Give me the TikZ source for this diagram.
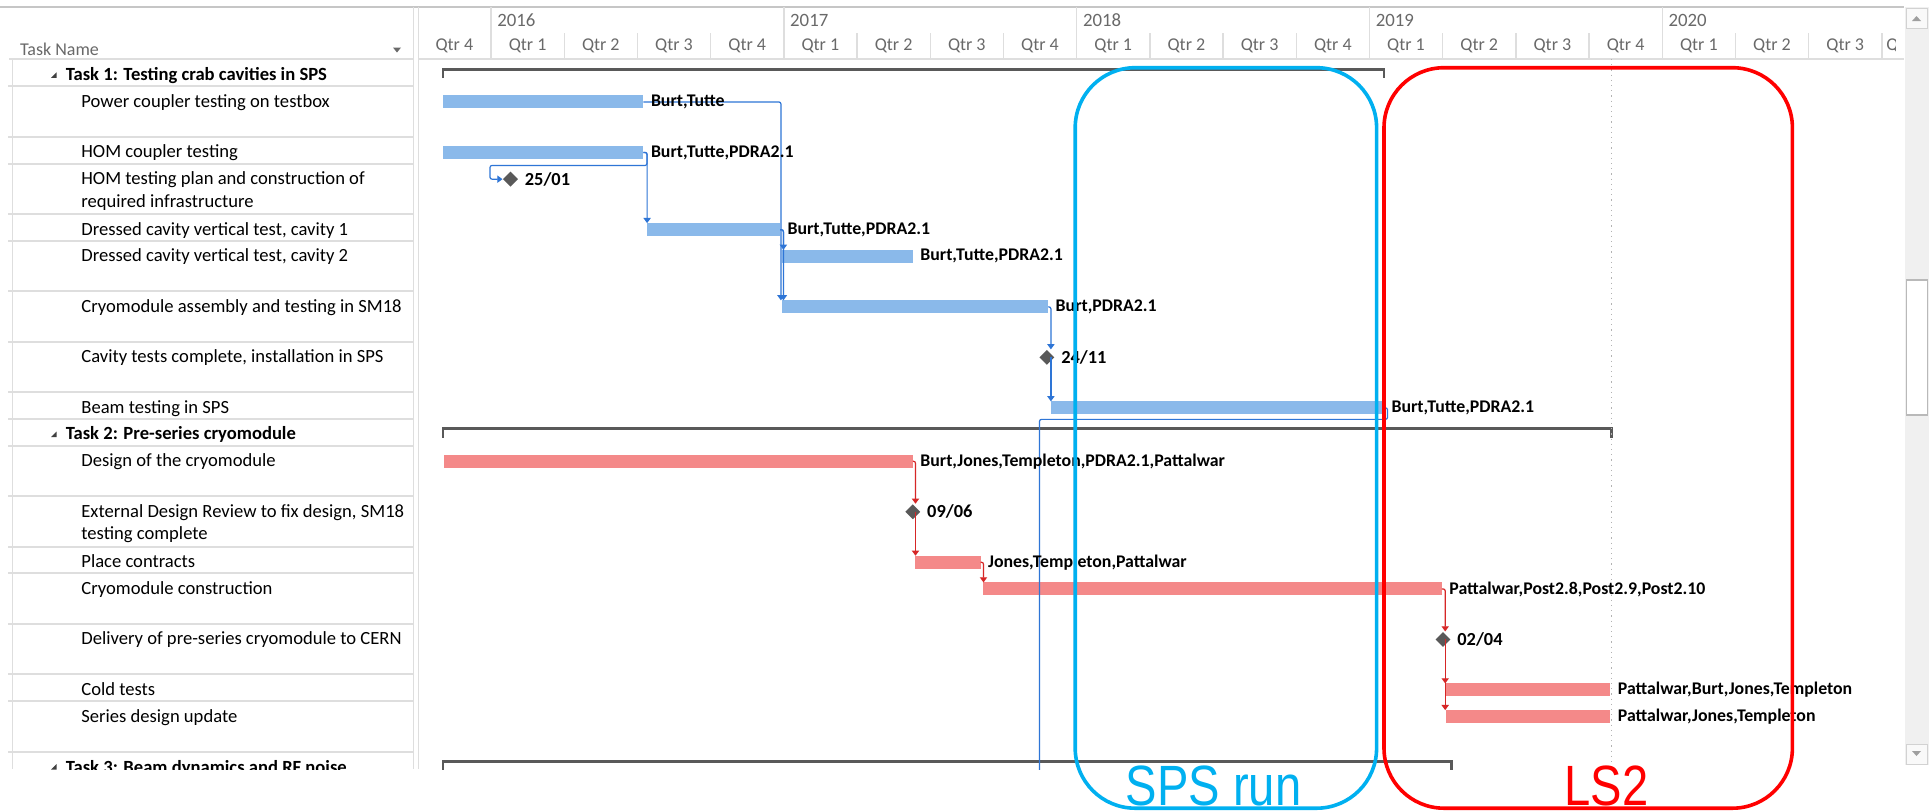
\documentclass[tikz,border=0pt]{standalone}
\usepackage{fontspec}
\setmainfont{Carlito}
\newfontfamily\narrowsans{Liberation Sans}[FakeStretch=0.83]
\usetikzlibrary{arrows.meta,shapes.geometric,calc}
\definecolor{barblue}{RGB}{138,185,234}
\definecolor{lineblue}{RGB}{46,117,214}
\definecolor{barred}{RGB}{244,137,137}
\definecolor{linered}{RGB}{214,38,38}
\definecolor{msgray}{RGB}{89,89,89}
\definecolor{gridgray}{RGB}{222,222,222}
\definecolor{hdrgray}{RGB}{105,105,105}
\definecolor{spscyan}{RGB}{0,176,240}
\definecolor{lsred}{RGB}{255,0,0}
\definecolor{scrollbg}{RGB}{240,240,240}
\newcommand\gbar[5]{\node[#5,minimum width={(#3-#2)*0.5pt}] (#1) at ({(#2+#3)/2},#4) {};}
\begin{document}
\begin{tikzpicture}[x=0.5pt,y=-0.5pt,
  tn/.style={anchor=north west,inner sep=0pt,align=left,text=black,font=\fontsize{9.3}{11.25}\selectfont},
  tt/.style={tn,font=\bfseries\fontsize{9.3}{11.25}\selectfont},
  hdr/.style={inner sep=0pt,text=hdrgray,font=\fontsize{9}{11}\selectfont},
  bbar/.style={rectangle,fill=barblue,inner sep=0pt,outer sep=0pt,minimum height=6.5pt},
  rbar/.style={bbar,fill=barred},
  ms/.style={diamond,fill=msgray,inner sep=0pt,minimum width=7.6pt,minimum height=7.6pt},
  res/.style={anchor=west,inner sep=0pt,xshift=3.6pt,font=\bfseries\fontsize{8.9}{10}\selectfont},
  datelab/.style={anchor=west,inner sep=0pt,xshift=3.0pt,font=\bfseries\fontsize{9.2}{10}\selectfont},
  bconn/.style={draw=lineblue,line width=0.6pt,rounded corners=1pt,-{Triangle[width=3.6pt,length=2.6pt]}},
  rconn/.style={bconn,draw=linered},
  summ/.style={draw=msgray,line width=1.4pt},
  grid/.style={draw=gridgray,line width=0.7pt},
  bigtxt/.style={inner sep=0pt,anchor=base,text depth=0pt,font=\narrowsans\fontsize{28.4}{30}\selectfont}
]
\useasboundingbox (0,0) rectangle (1929,811);
\fill[white] (0,0) rectangle (1929,811);
\begin{scope}
\clip (0,0) rectangle (1904,769);
% ---------- header ----------
\draw[draw=gray!45,line width=0.8pt] (0,7) -- (1904,7);
\draw[grid,line width=1pt] (9,59) -- (413,59);
\draw[grid,line width=1pt] (419,58.5) -- (1904,58.5);
\node[hdr,anchor=west] (taskname) at (19.7,49) {Task Name};
\fill[hdrgray] (393,47.5) -- (401,47.5) -- (397,52.5) -- cycle;
\foreach \k in {1,5,9,13,17} \draw[grid] ({417.8+73.2*\k},7) -- ({417.8+73.2*\k},58.5);
\foreach \k in {2,3,4,6,7,8,10,11,12,14,15,16,18,19,20} \draw[grid] ({417.8+73.2*\k},33) -- ({417.8+73.2*\k},58.5);
\foreach \yr [count=\i from 0] in {2016,2017,2018,2019,2020}
  \node[hdr,anchor=west,font=\fontsize{9.4}{11}\selectfont] (y\yr) at ({491+292.8*\i+6},20) {\yr};
\foreach \lab [count=\k from 0] in {Qtr 4,Qtr 1,Qtr 2,Qtr 3,Qtr 4,Qtr 1,Qtr 2,Qtr 3,Qtr 4,Qtr 1,Qtr 2,Qtr 3,Qtr 4,Qtr 1,Qtr 2,Qtr 3,Qtr 4,Qtr 1,Qtr 2,Qtr 3}
  \node[hdr] (q\k) at ({417.8+73.2*\k+36.6},45.5) {\lab};
\begin{scope}
\clip (1880,30) rectangle (1895,58);
\node[hdr,anchor=west] (q20) at (1886,45.5) {Qtr 4};
\end{scope}
% ---------- left panel ----------
\draw[grid] (413.3,7) -- (413.3,769);
\draw[grid] (418.6,7) -- (418.6,769);
\draw[grid] (12.5,59) -- (12.5,769);
\foreach \yy in {86.4,136.9,163.6,214.1,240.8,291.3,341.8,392.3,419.0,445.7,496.2,546.7,573.4,623.9,674.4,701.1,751.6}
  \draw[grid,line width=1pt] (8,\yy) -- (413.3,\yy);
\draw[summ] (442.9,78) -- (442.9,69.2) -- (1384,69.2) -- (1384,78);
\draw[summ] (442.9,437.5) -- (442.9,428.5) -- (1611.6,428.5) -- (1611.6,437.5);
\draw[summ] (442.9,770) -- (442.9,761.1) -- (1451.6,761.1) -- (1451.6,770);
\draw[gray!60,dotted,line width=0.6pt] (1611.6,59) -- (1611.6,769);
\begin{scope}[yshift=-1.1pt]
\foreach \yy in {73.05,432.35,764.95} \fill[black!75] (51,{\yy+2.5}) -- (56.5,{\yy+2.5}) -- (56.5,{\yy-3}) -- cycle;
\node[tt] (t0) at (65.4,62.3) {\strut Task 1: Testing crab cavities in SPS};
\node[tn] (t1) at (81,89.0) {\strut Power coupler testing on testbox};
\node[tn] (t2) at (81,139.5) {\strut HOM coupler testing};
\node[tn] (t3) at (81,166.2) {\strut HOM testing plan and construction of\\\strut required infrastructure};
\node[tn] (t4) at (81,216.7) {\strut Dressed cavity vertical test, cavity 1};
\node[tn] (t5) at (81,243.4) {\strut Dressed cavity vertical test, cavity 2};
\node[tn] (t6) at (81,293.9) {\strut Cryomodule assembly and testing in SM18};
\node[tn] (t7) at (81,344.4) {\strut Cavity tests complete, installation in SPS};
\node[tn] (t8) at (81,394.9) {\strut Beam testing in SPS};
\node[tt] (t9) at (65.4,421.6) {\strut Task 2: Pre-series cryomodule};
\node[tn] (t10) at (81,448.3) {\strut Design of the cryomodule};
\node[tn] (t11) at (81,498.8) {\strut External Design Review to fix design, SM18\\\strut testing complete};
\node[tn] (t12) at (81,549.3) {\strut Place contracts};
\node[tn] (t13) at (81,576.0) {\strut Cryomodule construction};
\node[tn] (t14) at (81,626.5) {\strut Delivery of pre-series cryomodule to CERN};
\node[tn] (t15) at (81,677.0) {\strut Cold tests};
\node[tn] (t16) at (81,703.7) {\strut Series design update};
\node[tt] (t17) at (65.4,755.2) {\strut Task 3: Beam dynamics and RF noise};
% ---------- chart ----------
\gbar{power}{442.9}{643.4}{99.75}{bbar}
\gbar{hom}{442.9}{643.4}{150.25}{bbar}
\gbar{dca}{647.1}{780.0}{227.45}{bbar}
\gbar{dcb}{782.4}{912.8}{254.15}{bbar}
\gbar{cryo}{782.4}{1048.1}{304.65}{bbar}
\gbar{beam}{1050.6}{1384.0}{405.65}{bbar}
\gbar{design}{444.0}{912.8}{459.05}{rbar}
\gbar{place}{915.3}{980.5}{560.05}{rbar}
\gbar{cc}{982.9}{1441.8}{586.75}{rbar}
\gbar{cold}{1445.5}{1610.3}{687.75}{rbar}
\gbar{series}{1445.5}{1610.3}{714.45}{rbar}
\node[ms] (m2501) at (510.5,176.95) {};
\node[ms] (m2411) at (1046.9,355.15) {};
\node[ms] (m0906) at (912.8,509.55) {};
\node[ms] (m0204) at (1443,637.25) {};
\coordinate (t3succ) at (1039.5,775);
\coordinate (p2411) at ($(m2411.center)+(4,0)$);
\coordinate (p0906) at ($(m0906.center)+(2.7,0)$);
\coordinate (p0204) at ($(m0204.center)+(2.2,0)$);
% connectors
\draw[bconn] (power.east) -| ($(cryo.north west)+(-1.5,0)$);
\draw[bconn] (dca.east) -| ($(dcb.north west)+(1,0)$);
\draw[bconn] (dca.east) -| ($(cryo.north west)+(1,0)$);
\draw[bconn] (hom.east) -| (dca.north west);
\draw[bconn] (hom.east) -| ++(3.6,13) -| ($(m2501.west)+(-12.5,0)$) -- (m2501.west);
\draw[bconn] (cryo.east) -| ($(m2411.north)+(4,0)$);
\draw[bconn] (p2411) -- (p2411 |- beam.north);
\draw[draw=lineblue,line width=0.6pt,rounded corners=1pt] (beam.east) -| ++(3.5,11.5) -| (t3succ);
\draw[rconn] (design.east) -| ($(m0906.north)+(2.7,0)$);
\draw[rconn] (p0906) -- (p0906 |- place.north);
\draw[rconn] (place.east) -| ($(cc.north west)+(0.6,0)$);
\draw[rconn] (cc.east) -| ($(m0204.north)+(2.2,0)$);
\draw[rconn] (p0204) -- (p0204 |- cold.north);
\draw[rconn] (p0204) -- (p0204 |- series.north);
% labels
\node[res] (lpower) at (power.east) {Burt,Tutte};
\node[res] (lhom) at (hom.east) {Burt,Tutte,PDRA2.1};
\node[res] (ldca) at (dca.east) {Burt,Tutte,PDRA2.1};
\node[res] (ldcb) at (dcb.east) {Burt,Tutte,PDRA2.1};
\node[res] (lcryo) at (cryo.east) {Burt,PDRA2.1};
\node[res] (lbeam) at (beam.east) {Burt,Tutte,PDRA2.1};
\node[res] (ldesign) at (design.east) {Burt,Jones,Templeton,PDRA2.1,Pattalwar};
\node[res] (lplace) at (place.east) {Jones,Templeton,Pattalwar};
\node[res] (lcc) at (cc.east) {Pattalwar,Post2.8,Post2.9,Post2.10};
\node[res] (lcold) at (cold.east) {Pattalwar,Burt,Jones,Templeton};
\node[res] (lseries) at (series.east) {Pattalwar,Jones,Templeton};
\node[datelab] (l2501) at (m2501.east) {25/01};
\node[datelab] (l2411) at (m2411.east) {24/11};
\node[datelab] (l0906) at (m0906.east) {09/06};
\node[datelab] (l0204) at (m0204.east) {02/04};
\end{scope}
\end{scope}
% ---------- scrollbar ----------
\fill[scrollbg] (1905,7) rectangle (1929,765);
\draw[gray!35,fill=white!95!gray,line width=0.5pt] (1906.5,8.5) rectangle (1927.5,28);
\fill[gray!75] (1912,21) -- (1921,21) -- (1916.5,16) -- cycle;
\draw[gray!55,fill=white,line width=0.6pt] (1906.5,280) rectangle (1927.5,415);
\draw[gray!35,fill=white!95!gray,line width=0.5pt] (1906.5,744) rectangle (1927.5,764);
\fill[gray!75] (1912,751) -- (1921,751) -- (1916.5,756) -- cycle;
% ---------- overlays ----------
\draw[spscyan,line width=1.8pt,rounded corners=30pt] (1075.2,67.7) rectangle (1376.6,808.2);
\draw[lsred,line width=1.8pt,rounded corners=30pt] (1384,67.7) rectangle (1792.4,808.2);
\node[bigtxt,text=spscyan] (spslabel) at (1213.6,805) {SPS run};
\node[bigtxt,text=lsred] (lslabel) at (1606.6,805) {LS2};
\end{tikzpicture}
\end{document}
